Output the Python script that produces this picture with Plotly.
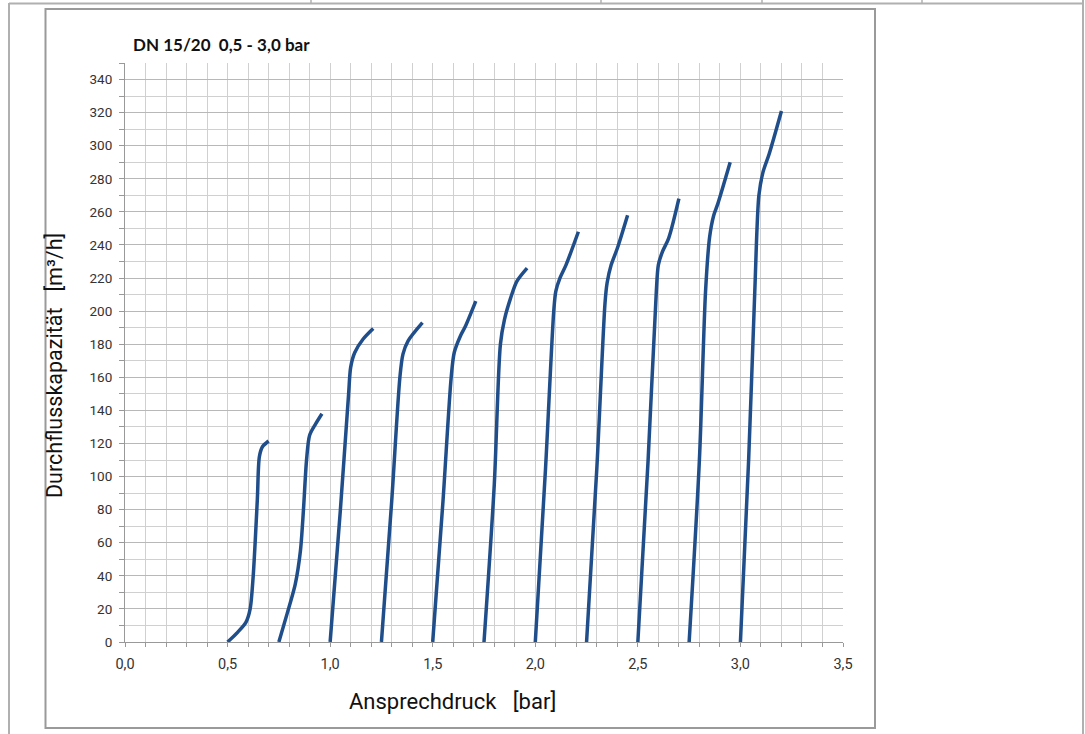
import plotly.graph_objects as go

# Opening-pressure curves: response pressure [bar] vs. flow capacity [m³/h]
set_pressures = ["0,50", "0,75", "1,00", "1,25", "1,50", "1,75", "2,00", "2,25", "2,50", "2,75", "3,00"]

pressure_bar = [
    [0.50, 0.55, 0.59, 0.61, 0.625, 0.645, 0.655, 0.67, 0.70],
    [0.75, 0.79, 0.83, 0.855, 0.87, 0.885, 0.90, 0.93, 0.96],
    [1.00, 1.05, 1.09, 1.10, 1.12, 1.16, 1.21],
    [1.25, 1.30, 1.34, 1.355, 1.38, 1.45],
    [1.50, 1.55, 1.59, 1.605, 1.635, 1.66, 1.71],
    [1.75, 1.80, 1.83, 1.85, 1.88, 1.91, 1.96],
    [2.00, 2.05, 2.09, 2.10, 2.12, 2.15, 2.21],
    [2.25, 2.30, 2.34, 2.35, 2.37, 2.40, 2.45],
    [2.50, 2.55, 2.59, 2.60, 2.62, 2.65, 2.70],
    [2.75, 2.80, 2.83, 2.85, 2.87, 2.89, 2.95],
    [3.00, 3.04, 3.07, 3.09, 3.11, 3.14, 3.20],
]
flow_m3h = [
    [0, 6, 12, 20, 40, 86, 112, 118, 121.5],
    [0, 17, 35, 55, 80, 110, 125, 132, 138],
    [0, 80, 150, 166, 175, 183, 189.5],
    [0, 85, 160, 174, 182, 193],
    [0, 85, 160, 175, 185, 191, 206],
    [0, 95, 180, 195, 208, 218, 226],
    [0, 105, 200, 212, 220, 228, 248],
    [0, 105, 205, 217, 228, 238, 258],
    [0, 110, 212, 228, 236, 244, 268],
    [0, 110, 212, 245, 258, 265, 290],
    [0, 110, 212, 270, 284, 295, 321],
]

W, H = 1085, 734
LINE = "#1f4e8a"


def px(x):
    return x / W


def py(y):
    return 1 - y / H


fig = go.Figure()
for name, xs, ys in zip(set_pressures, pressure_bar, flow_m3h):
    fig.add_trace(go.Scatter(
        x=xs, y=ys, mode="lines", name=name,
        line=dict(color=LINE, width=3.5, shape="spline", smoothing=0.8),
        showlegend=False,
    ))

grid_minor = "#d0d0d0"
grid_major = "#b8b8b8"
x_tick_font = dict(family="Roboto, Arial, sans-serif", size=14.5, color="#333333")
y_tick_font = dict(family="Roboto, Arial, sans-serif", size=13.5, color="#333333")

fig.update_xaxes(
    domain=[px(125), px(843)], automargin=False,
    range=[0, 3.5], dtick=0.5, tickformat=".1f",
    showgrid=True, gridcolor=grid_minor, gridwidth=1,
    minor=dict(dtick=0.1, showgrid=True, gridcolor=grid_minor,
               ticks="outside", ticklen=4, tickcolor="#999999"),
    ticks="outside", ticklen=4, tickcolor="#999999",
    showline=True, linecolor="#999999", linewidth=1,
    zeroline=False, tickfont=x_tick_font, ticklabelstandoff=5,
    fixedrange=True,
)
fig.update_yaxes(
    domain=[py(642), py(63)], automargin=False,
    range=[0, 350], dtick=20,
    showgrid=True, gridcolor=grid_major, gridwidth=1,
    minor=dict(dtick=10, showgrid=True, gridcolor=grid_minor,
               ticks="outside", ticklen=5, tickcolor="#999999"),
    ticks="outside", ticklen=5, tickcolor="#999999",
    showline=True, linecolor="#999999", linewidth=1,
    zeroline=False, tickfont=y_tick_font, ticklabelstandoff=4,
    fixedrange=True,
)

# Surrounding table rules and chart frame
P = dict(xref="paper", yref="paper")
shapes = [
    dict(type="line", x0=px(9), x1=px(1083), y0=py(3.5), y1=py(3.5), line=dict(color="#b0b0b0", width=2), **P),
    dict(type="line", x0=px(9), x1=px(9), y0=py(3), y1=py(734), line=dict(color="#b0b0b0", width=2), **P),
    dict(type="line", x0=px(1083), x1=px(1083), y0=py(0), y1=py(734), line=dict(color="#b0b0b0", width=2), **P),
    dict(type="rect", x0=px(45.5), x1=px(875), y0=py(9), y1=py(728), line=dict(color="#9a9a9a", width=2), **P),
]
for xs in (311, 601, 762, 922):
    shapes.append(dict(type="line", x0=px(xs), x1=px(xs), y0=py(0), y1=py(3.5),
                       line=dict(color="#b0b0b0", width=1.5), **P))

annotations = [
    dict(text="<b>DN 15/20  0,5 - 3,0 bar</b>", x=px(131), y=py(45), xref="paper", yref="paper",
         xanchor="left", yanchor="middle", showarrow=False,
         font=dict(family="Lato, 'Open Sans', sans-serif", size=17, color="#111111")),
    dict(text="Ansprechdruck   [bar]", x=px(452), y=py(701), xref="paper", yref="paper",
         xanchor="center", yanchor="middle", showarrow=False,
         font=dict(family="Roboto, Arial, sans-serif", size=22, color="#111111")),
    dict(text="Durchflusskapazität   [m³/h]", x=px(55), y=py(366), xref="paper", yref="paper",
         xanchor="center", yanchor="middle", showarrow=False, textangle=-90,
         font=dict(family="Roboto, Arial, sans-serif", size=21.5, color="#111111")),
]

fig.update_layout(
    width=W, height=H,
    margin=dict(l=0, r=0, t=0, b=0),
    paper_bgcolor="white", plot_bgcolor="white",
    separators=",.",
    shapes=shapes, annotations=annotations,
)

fig.write_html("out.html")
